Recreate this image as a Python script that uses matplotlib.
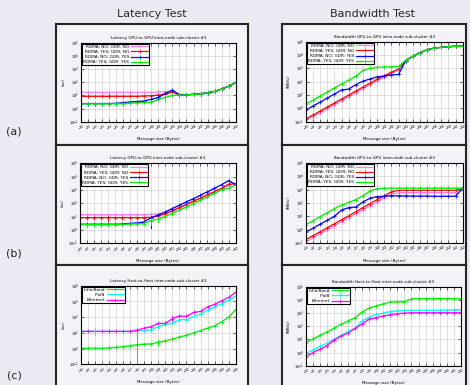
import matplotlib
matplotlib.use("Agg")
import matplotlib.pyplot as plt
import numpy as np

W, H = 470, 385

# ---- message sizes: 2^0 .. 2^22 bytes ----
exponents = list(range(0, 23))
sizes = [2 ** k for k in exponents]

gdr_labels = ["RDMA: NO; GDR: NO", "RDMA: YES; GDR: NO",
              "RDMA: NO; GDR: YES", "RDMA: YES; GDR: YES"]
gdr_colors = ["#ee82ee", "#ff0000", "#0000ff", "#00ee00"]

net_labels = ["InfiniBand", "IPoIB", "Ethernet"]
net_colors = ["#00ee00", "#00ffff", "#ff00ff"]

# (a) intra-node GPU-to-GPU latency (us)
lat_intra_nono = [17, 17, 17, 17, 17, 17, 17, 17, 17, 17, 17, 18, 19, 20, 11, 11, 12, 13, 16, 20, 30, 50, 95]
lat_intra_yesno = [8.5, 8.5, 8.5, 8.5, 8.5, 8.5, 8.5, 8.5, 8.5, 9, 9.5, 10.5, 12, 18, 10.5, 11, 12, 13, 16, 20, 30, 50, 95]
lat_intra_noyes = [2.4, 2.4, 2.4, 2.4, 2.4, 2.5, 2.8, 3.2, 3.4, 3.8, 5, 7, 14, 25, 11, 11, 12, 13, 16, 20, 30, 50, 95]
lat_intra_yesyes = [2.3, 2.3, 2.3, 2.3, 2.3, 2.3, 2.4, 2.6, 2.7, 2.9, 3, 5, 7, 10, 10.5, 11, 12, 13, 16, 20, 30, 50, 95]

# (a) intra-node GPU-to-GPU bandwidth (MB/s)
bw_intra_nono = [0.12, 0.24, 0.47, 0.95, 1.9, 3.7, 7.5, 15, 30, 60, 115, 220, 420, 700, 3800, 8000, 15000, 25000, 33000, 38000, 43000, 45000, 46000]
bw_intra_yesno = [0.16, 0.32, 0.63, 1.25, 2.5, 5, 10, 20, 40, 78, 150, 280, 520, 900, 3800, 8000, 15000, 25000, 33000, 38000, 43000, 45000, 46000]
bw_intra_noyes = [0.75, 1.5, 3, 6, 12, 24, 28, 60, 110, 160, 230, 270, 320, 350, 3800, 8000, 15000, 25000, 33000, 38000, 43000, 45000, 46000]
bw_intra_yesyes = [2.1, 4.2, 8.5, 17, 34, 68, 130, 260, 700, 1000, 1200, 1300, 1300, 1400, 4000, 8000, 15000, 25000, 33000, 38000, 43000, 45000, 46000]

# (b) inter-node GPU-to-GPU latency (us)
lat_inter_nono = [14, 14, 14, 14, 14, 14, 14, 14, 14, 14, 15, 16, 20, 30, 50, 85, 145, 250, 430, 750, 1300, 2200, 3000]
lat_inter_yesno = [8.5, 8.5, 8.5, 8.5, 8.5, 8.5, 8.5, 8.5, 8.5, 8.5, 9, 11, 16, 26, 45, 80, 140, 240, 420, 750, 1300, 2700, 3000]
lat_inter_noyes = [2.7, 2.7, 2.7, 2.7, 2.7, 2.7, 2.8, 3.1, 3.4, 4, 8, 13, 22, 40, 70, 125, 220, 400, 720, 1300, 2500, 5000, 2600]
lat_inter_yesyes = [2.5, 2.5, 2.5, 2.5, 2.5, 2.5, 2.6, 2.8, 2.9, 3, 5, 6.5, 10, 17, 30, 52, 95, 170, 300, 560, 1000, 1400, 2300]

# (b) inter-node GPU-to-GPU bandwidth (MB/s)
bw_inter_nono = [0.13, 0.25, 0.5, 1, 2, 4, 8, 16, 32, 62, 120, 250, 480, 600, 600, 600, 600, 600, 600, 600, 600, 600, 1300]
bw_inter_yesno = [0.18, 0.36, 0.7, 1.4, 2.8, 5.5, 11, 22, 45, 90, 180, 350, 700, 900, 900, 900, 900, 900, 900, 900, 900, 900, 1300]
bw_inter_noyes = [0.67, 1.3, 2.6, 5.2, 10, 30, 45, 50, 120, 230, 300, 320, 350, 340, 340, 330, 330, 330, 320, 320, 320, 320, 1300]
bw_inter_yesyes = [2.4, 4.8, 9.5, 19, 38, 70, 110, 180, 350, 800, 1200, 1300, 1300, 1300, 1300, 1300, 1300, 1300, 1300, 1300, 1300, 1300, 1300]

# (c) inter-node host-to-host latency (us)
lat_host_ib = [1.05, 1.05, 1.05, 1.05, 1.1, 1.2, 1.35, 1.5, 1.8, 1.9, 2.0, 2.5, 3.2, 4, 5.5, 7, 10, 14, 20, 28, 50, 100, 300]
lat_host_ipoib = [12.5, 12.5, 12.5, 12.5, 12.5, 12.5, 12.5, 12.5, 13, 14, 16, 25, 35, 40, 70, 70, 110, 150, 280, 450, 700, 1200, 2200]
lat_host_eth = [12.5, 12.5, 12.5, 12.5, 12.5, 12.5, 12.5, 12.5, 15, 20, 25, 40, 40, 80, 120, 110, 200, 230, 450, 650, 1100, 1800, 3800]

# (c) inter-node host-to-host bandwidth (MB/s)
bw_host_ib = [5.6, 11, 20, 38, 70, 140, 250, 450, 1200, 2400, 3500, 5000, 7000, 7000, 7500, 12000, 12500, 12500, 12500, 12500, 12500, 12500, 12500]
bw_host_ipoib = [0.85, 1.6, 3, 5, 10, 20, 40, 70, 250, 500, 800, 1000, 1300, 1500, 1600, 1600, 1600, 1600, 1600, 1600, 1650, 1750, 1800]
bw_host_eth = [0.48, 1, 1.8, 3.3, 9, 18, 30, 70, 150, 350, 450, 600, 750, 900, 1000, 1050, 1050, 1050, 1050, 1050, 1050, 1050, 1050]

# error bars: (series index, exponent, low, high)
errs_lat_intra = [(1, 4, 6, 12), (3, 12, 4, 10), (2, 11, 5, 9)]
errs_lat_inter = [(1, 4, 5, 12), (2, 10, 1.5, 9), (3, 10, 2.5, 8), (3, 11, 4, 8)]
errs_lat_host = [(0, 8, 0.1, 13), (1, 2, 7, 20), (0, 11, 1.8, 3.5), (2, 13, 55, 110)]

fig = plt.figure(figsize=(W / 100, H / 100), dpi=100)
fig.patch.set_facecolor("#eaeaf2")


def rect(x0, y0, x1, y1):
    return [x0 / W, 1 - y1 / H, (x1 - x0) / W, (y1 - y0) / H]


# outer frames
frames = [
    (56, 24, 248, 145), (282, 24, 466, 145),
    (56, 145, 248, 265), (282, 145, 466, 265),
    (56, 265, 248, 388), (282, 265, 466, 388),
]
for fr in frames:
    oax = fig.add_axes(rect(*fr))
    oax.set_facecolor("#f3f3f7")
    oax.set_xticks([])
    oax.set_yticks([])
    for s in oax.spines.values():
        s.set_color("#262626")
        s.set_linewidth(1.5)

fig.text(152 / W, 1 - 14 / H, "Latency Test", ha="center", va="center", fontsize=8, color="#262626")
fig.text(373 / W, 1 - 14 / H, "Bandwidth Test", ha="center", va="center", fontsize=8, color="#262626")
for lab, yy in [("(a)", 131), ("(b)", 253), ("(c)", 375)]:
    fig.text(14 / W, 1 - yy / H, lab, ha="center", va="center", fontsize=8, color="#262626")

FS = 2.6


def panel(box, title, ylabel, series, labels, colors, ymin_exp, ymax_exp, errs=None):
    ax = fig.add_axes(rect(*box))
    ax.set_facecolor("#fdfdfe")
    ax.set_xscale("log", base=2)
    ax.set_yscale("log")
    ax.set_xlim(sizes[0], sizes[-1])
    ax.set_ylim(10.0 ** ymin_exp, 10.0 ** ymax_exp)
    for vals, lab, col in zip(series, labels, colors):
        ax.plot(sizes, vals, color=col, lw=0.9, marker="+", ms=2.2, mew=0.5, label=lab)
    if errs:
        for si, k, lo, hi in errs:
            ax.plot([2 ** k, 2 ** k], [lo, hi], color=colors[si], lw=0.7)
    ax.set_xticks(sizes)
    ax.set_xticklabels([f"$2^{{{k}}}$" for k in exponents], fontsize=FS)
    yt = [10.0 ** e for e in range(ymin_exp, ymax_exp + 1)]
    ax.set_yticks(yt)
    ax.set_yticklabels([f"$10^{{{e}}}$" for e in range(ymin_exp, ymax_exp + 1)], fontsize=FS)
    ax.minorticks_off()
    ax.tick_params(direction="in", top=True, right=True, length=2, width=0.4, pad=1.5)
    ax.grid(True, color="#c8c8c8", lw=0.4)
    ax.set_axisbelow(True)
    for s in ax.spines.values():
        s.set_linewidth(0.8)
        s.set_color("black")
    ax.set_title(title, fontsize=FS + 0.3, pad=3)
    ax.set_xlabel("Message size (Bytes)", fontsize=FS + 0.3, labelpad=3)
    ax.set_ylabel(ylabel, fontsize=FS + 0.3, labelpad=2)
    leg = ax.legend(loc="upper left", fontsize=FS + 0.5, markerfirst=False, frameon=True,
                    fancybox=False, edgecolor="black", framealpha=1, borderpad=0.3,
                    handlelength=3.8, handletextpad=0.6, labelspacing=0.25,
                    borderaxespad=0.2)
    leg.get_frame().set_linewidth(0.8)
    # right-justify the entry texts, gnuplot style
    for col in leg._legend_handle_box.get_children():
        col.align = "right"
    return ax


panel((81, 42.7, 235.7, 121.7), "Latency GPU-to-GPU intra-node sub-cluster #3", "(us)",
      [lat_intra_nono, lat_intra_yesno, lat_intra_noyes, lat_intra_yesyes],
      gdr_labels, gdr_colors, -1, 5, errs_lat_intra)
panel((306, 41.7, 462.7, 121.7), "Bandwidth GPU-to-GPU intra-node sub-cluster #3", "(MB/s)",
      [bw_intra_nono, bw_intra_yesno, bw_intra_noyes, bw_intra_yesyes],
      gdr_labels, gdr_colors, -1, 5)
panel((80, 163.3, 235.7, 243.3), "Latency GPU-to-GPU inter-node sub-cluster #3", "(us)",
      [lat_inter_nono, lat_inter_yesno, lat_inter_noyes, lat_inter_yesyes],
      gdr_labels, gdr_colors, -1, 5, errs_lat_inter)
panel((306, 163, 462.7, 243), "Bandwidth GPU-to-GPU inter-node sub-cluster #3", "(MB/s)",
      [bw_inter_nono, bw_inter_yesno, bw_inter_noyes, bw_inter_yesyes],
      gdr_labels, gdr_colors, -1, 5)
panel((81, 285.7, 235.7, 364.3), "Latency Host-to-Host inter-node sub-cluster #3", "(us)",
      [lat_host_ib, lat_host_ipoib, lat_host_eth],
      net_labels, net_colors, -1, 4, errs_lat_host)
panel((306, 286.7, 460.7, 365.7), "Bandwidth Host-to-Host inter-node sub-cluster #3", "(MB/s)",
      [bw_host_ib, bw_host_ipoib, bw_host_eth],
      net_labels, net_colors, -1, 5)

fig.savefig("out.png", dpi=100, facecolor=fig.get_facecolor())
